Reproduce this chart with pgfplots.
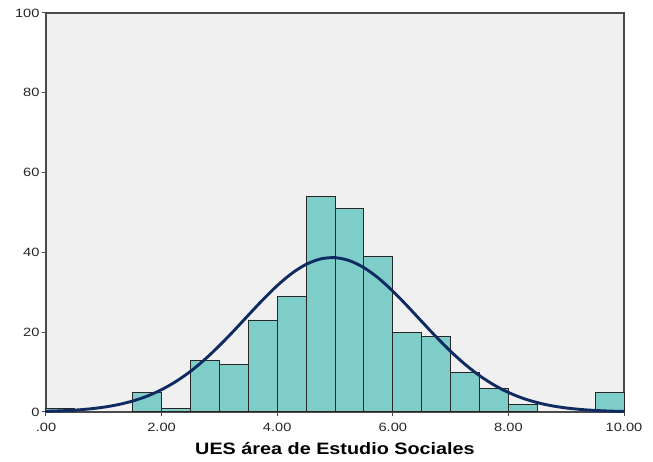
\documentclass[border=0pt]{standalone}
\usepackage{pgfplots}
\pgfplotsset{compat=1.18}
\usepackage{graphicx}
\usepackage{fontspec}
\setmainfont{Liberation Sans}
\definecolor{barfill}{HTML}{7ECDC8}
\definecolor{bgfill}{HTML}{F0F0F0}
\definecolor{curve}{HTML}{102A62}
\definecolor{axisgray}{HTML}{4A4A4A}
\newcommand{\sx}[1]{\scalebox{1.22}[1]{#1}}
\begin{document}
\begin{tikzpicture}[x=1pt,y=1pt]
\useasboundingbox (-46,-50) rectangle (607,412);
\begin{axis}[
  at={(0,0)}, anchor=south west,
  scale only axis, width=578pt, height=399pt,
  xmin=0, xmax=10, ymin=0, ymax=100,
  axis background/.style={fill=bgfill},
  axis line style={axisgray, line width=1.2pt},
  xtick={0,2,4,6,8,10},
  xticklabels={\sx{.00},\sx{2.00},\sx{4.00},\sx{6.00},\sx{8.00},\sx{10.00}},
  ytick={0,20,40,60,80,100},
  yticklabels={\sx{0},\sx{20},\sx{40},\sx{60},\sx{80},\sx{100}},
  xtick pos=bottom, ytick pos=left,
  tick align=outside, major tick length=4pt,
  tick style={axisgray, line width=1pt},
  ticklabel style={font=\fontsize{12}{12}\selectfont, text=black!85},
  xticklabel style={yshift=-4pt},
  yticklabel style={xshift=1pt},
  xlabel={\scalebox{1.2}[1]{\bfseries UES área de Estudio Sociales}},
  xlabel style={font=\fontsize{16.5}{18}\selectfont, yshift=-4pt},
  clip=false,
]
\addplot[ybar, bar width=0.5, bar shift=0pt, fill=barfill, draw=black!85, line width=1pt]
coordinates {(0.25,1)(1.75,5)(2.25,1)(2.75,13)(3.25,12)(3.75,23)(4.25,29)(4.75,54)(5.25,51)(5.75,39)(6.25,20)(6.75,19)(7.25,10)(7.75,6)(8.25,2)(9.75,5)};
\addplot[curve, line width=2.9pt, smooth, no marks]
coordinates {(0,0.17)(0.25,0.29)(0.5,0.47)(0.75,0.77)(1,1.21)(1.25,1.85)(1.5,2.75)(1.75,3.97)(2,5.60)(2.25,7.66)(2.5,10.19)(2.75,13.20)(3,16.63)(3.25,20.36)(3.5,24.26)(3.75,28.10)(4,31.67)(4.25,34.71)(4.5,37.00)(4.75,38.36)(5,38.68)(5.25,37.93)(5.5,36.18)(5.75,33.57)(6,30.29)(6.25,26.58)(6.5,22.69)(6.75,18.84)(7,15.21)(7.25,11.94)(7.5,9.12)(7.75,6.78)(8,4.90)(8.25,3.44)(8.5,2.35)(8.75,1.56)(9,1.01)(9.25,0.64)(9.5,0.39)(9.75,0.23)(10,0.13)};
\end{axis}
\end{tikzpicture}
\end{document}
